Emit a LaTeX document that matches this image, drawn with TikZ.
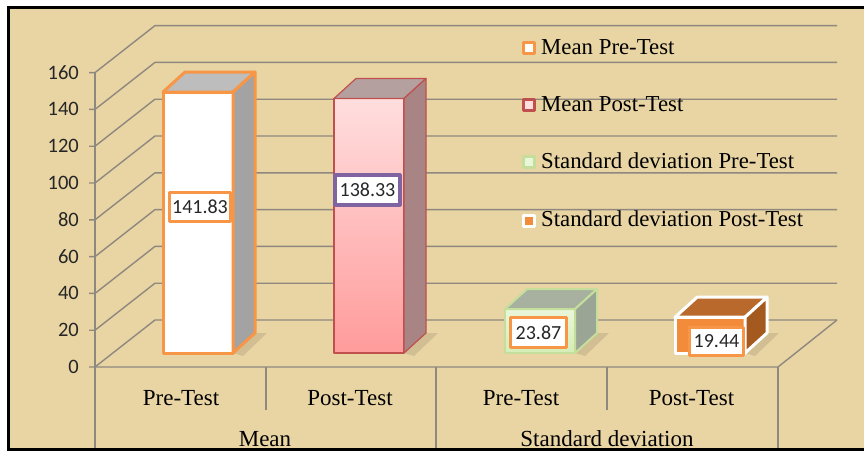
\documentclass[tikz,border=0pt]{standalone}
\usepackage{fontspec}
\setmainfont{Liberation Serif}
\newfontfamily\calfont{Carlito}
\definecolor{bgc}{HTML}{E9D5A4}
\definecolor{gridc}{HTML}{8E887E}
\definecolor{orng}{HTML}{F79646}
\definecolor{bOneTop}{HTML}{BDBDBD}
\definecolor{bOneSide}{HTML}{A3A3A3}
\definecolor{bTwoLine}{HTML}{C0504D}
\definecolor{bTwoTop}{HTML}{B5A0A0}
\definecolor{bTwoSide}{HTML}{A88484}
\definecolor{bTwoHi}{HTML}{FFDEDE}
\definecolor{bTwoLo}{HTML}{FF9B9B}
\definecolor{bThrLine}{HTML}{C5DE9C}
\definecolor{bThrHi}{HTML}{EAF6DA}
\definecolor{bThrLo}{HTML}{D4EDB6}
\definecolor{bThrTop}{HTML}{A8B1A0}
\definecolor{bThrSide}{HTML}{9BA595}
\definecolor{bFouFront}{HTML}{F28C3A}
\definecolor{bFouTop}{HTML}{B8692B}
\definecolor{bFouSide}{HTML}{A45A1F}
\definecolor{purp}{HTML}{8064A2}
\newcommand\drawbar[5]{%
  \pgfmathsetmacro\hh{1.84*#2}%
  \path[#3] (#1,353) rectangle ({#1+70},{353-\hh});
  \path[#4] (#1,{353-\hh}) -- ({#1+22},{333-\hh}) -- ({#1+92},{333-\hh}) -- ({#1+70},{353-\hh}) -- cycle;
  \path[#5] ({#1+70},353) -- ({#1+70},{353-\hh}) -- ({#1+92},{333-\hh}) -- ({#1+92},333) -- cycle;
}
\begin{document}
\begin{tikzpicture}[x=1pt,y=-1pt,line join=round,
  grid/.style={draw=gridc,line width=1.4pt},
  ticklab/.style={font=\calfont\fontsize{20.5}{24}\selectfont,anchor=east,inner sep=0pt,text=black!85},
  catlab/.style={font=\fontsize{23}{27}\selectfont,anchor=base,inner sep=0pt},
  leglab/.style={font=\fontsize{22.8}{27}\selectfont,anchor=base west,inner sep=0pt},
  dlab/.style={font=\calfont\fontsize{20}{23}\selectfont,fill=white,line width=3.2pt,inner sep=0pt,text=black!85},
  legmark/.style={line width=2.6pt,minimum size=10.5pt,inner sep=0pt}]
\useasboundingbox (0,0) rectangle (864,453);
\fill[white] (0,0) rectangle (864,453);
\fill[bgc] (8,8) rectangle (864,448);
% walls and grid
\foreach \v in {0,20,...,160}{
  \draw[grid] (89,{367-1.84*\v}) -- (95,{367-1.84*\v}) -- (155,{320-1.84*\v}) -- (837,{320-1.84*\v});
  \node[ticklab] (t\v) at (79,{367-1.84*\v}) {\v};
}
\draw[grid] (95,72.6) -- (95,448);
\draw[grid] (95,367) -- (778,367) -- (837,320);
\draw[grid] (778,367) -- (778,448);
\draw[grid] (436,367) -- (436,448);
\draw[grid] (266,367) -- (266,410);
\draw[grid] (607,367) -- (607,410);
% shadows
\foreach \x/\v in {163/141.83,334/138.33,505/23.87,675/19.44}{
  \fill[black,opacity=0.10] ({\x+70},353) -- ({\x+92},333) -- ({\x+104},333) -- ({\x+80},356) -- cycle;
}
% bars
\drawbar{163}{141.83}{fill=white,draw=orng,line width=3pt}{fill=bOneTop,draw=orng,line width=3pt}{fill=bOneSide,draw=orng,line width=3pt}
\drawbar{334}{138.33}{top color=bTwoHi,bottom color=bTwoLo,draw=bTwoLine,line width=1.2pt}{fill=bTwoTop,draw=bTwoLine,line width=1.2pt}{fill=bTwoSide,draw=bTwoLine,line width=1.2pt}
\drawbar{505}{23.87}{top color=bThrHi,bottom color=bThrLo,draw=bThrLine,line width=2pt}{fill=bThrTop,draw=bThrLine,line width=2pt}{fill=bThrSide,draw=bThrLine,line width=2pt}
\drawbar{675}{19.44}{fill=bFouFront,draw=white,line width=3pt}{fill=bFouTop,draw=white,line width=3pt}{fill=bFouSide,draw=white,line width=3pt}
% data labels
\node[dlab,draw=orng,minimum width=61pt,minimum height=29pt] (d1) at (200,207) {141.83};
\node[dlab,draw=purp,minimum width=65pt,minimum height=30pt] (d2) at (367.5,190) {138.33};
\node[dlab,draw=orng,minimum width=56pt,minimum height=30pt] (d3) at (538.5,332.5) {23.87};
\node[dlab,draw=orng,minimum width=54pt,minimum height=28pt] (d4) at (716.5,341.5) {19.44};
% category labels
\node[catlab] (c1) at (181,405) {Pre-Test};
\node[catlab] (c2) at (350,405) {Post-Test};
\node[catlab] (c3) at (521,405) {Pre-Test};
\node[catlab] (c4) at (691.5,405) {Post-Test};
\node[catlab] (g1) at (265,446) {Mean};
\node[catlab] (g2) at (607,446) {Standard deviation};
% legend
\node[legmark,draw=orng,fill=white] (m1) at (529,48) {};
\node[legmark,draw=bTwoLine,fill=bTwoHi] (m2) at (529,105) {};
\node[legmark,draw=bThrLine,fill=bThrHi] (m3) at (529,162) {};
\node[legmark,draw=white,fill=bFouFront] (m4) at (529,221) {};
\node[leglab] (l1) at (541,54) {Mean Pre-Test};
\node[leglab] (l2) at (541,111.3) {Mean Post-Test};
\node[leglab] (l3) at (541,168.6) {Standard deviation Pre-Test};
\node[leglab] (l4) at (541,226) {Standard deviation Post-Test};
% outer frame
\fill[black] (7,6) rectangle (864,9);
\fill[black] (7,6) rectangle (10,451);
\fill[black] (7,448) rectangle (864,451);
\end{tikzpicture}
\end{document}
